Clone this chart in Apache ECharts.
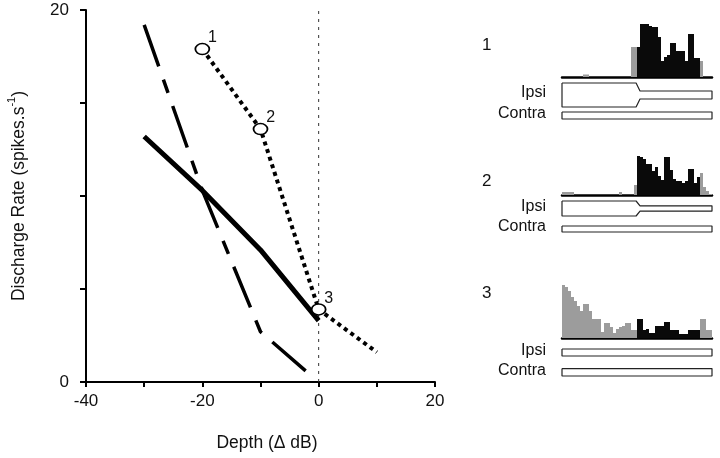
<!DOCTYPE html>
<html>
<head>
<meta charset="utf-8">
<script src="https://cdn.jsdelivr.net/npm/echarts@6/dist/echarts.min.js"></script>
<style>
html,body{margin:0;padding:0;background:#fff;}
#chart{width:720px;height:458px;}
</style>
</head>
<body>
<div id="chart"></div>
<script>
// ---------- data ----------
// main chart: depth (Δ dB) vs discharge rate (spikes/s)
const dashedX = [-30, -20, -10, -1.5];
const dashedY = [19.2, 10.3, 2.7, 0.4];
const solidX = [-30, -20, -10, 0];
const solidY = [13.2, 10.3, 7.1, 3.3];
const dottedX = [-20, -10, 0, 10];
const dottedY = [17.9, 13.6, 3.9, 1.6];
const markerLabels = ['1', '2', '3'];
const referenceDepth = 0;
const xTicks = [-40, -20, 0, 20];
const yTicks = [0, 20];

// PSTH histograms (50 bins each)
const hist1 = [0,0,0,0,0,0,0,2.5,2.5,0, 0,0,0,0,0,0,0,0,0,0, 0,0,0,30,30,30,53,53,53,51, 50,50,40,16,20,22,34,34,26,26, 26,16,43,43,19,19,16,0,0,0];
const hist2 = [3,3,3,3,0,0,0,0,0,0, 0,0,0,0,0,0,0,0,0,3, 0,0,0,0,10,39,38,36,31,31, 24,28,19,15,38,38,25,16,14,14, 12,14,26,26,12,18,22,8,4,1];
const hist3 = [53,51,47,41,37,32,27,34,34,27, 19,19,19,6,15,15,11,5,9,11, 12,15,15,8,8,19,19,8,9,5, 5,12,12,12,16,16,8,8,8,4, 4,4,8,8,8,8,19,19,8,8];
const drivenBins = [25, 45]; // bins during the stimulus-driven window

// stimulus envelopes: [bin, half-amplitude]
const ipsi1 = [[0,12],[24.7,12],[26,4],[50,4]];
const contra1 = [[0,3.5],[50,3.5]];
const ipsi2 = [[0,7.5],[24.7,7.5],[26,2.7],[50,2.7]];
const contra2 = [[0,3],[50,3]];
const ipsi3 = [[0,3.5],[50,3.5]];
const contra3 = [[0,3.7],[50,3.7]];
const panelNames = ['1', '2', '3'];
const rowNames = ['Ipsi', 'Contra'];

// ---------- layout ----------
const FONT = '"Liberation Sans", Arial, Helvetica, sans-serif';
const histLayout = [{top: 21, height: 56}, {top: 155, height: 40}, {top: 282, height: 56}];
const stimCenters = [[95, 115.5], [208.5, 229], [352.5, 372.3]];
const panelLabelY = [47, 183, 295];
const histLeft = 562, histWidth = 150;

const chart = echarts.init(document.getElementById('chart'), null, {renderer: 'canvas'});

const grids = [{left: 86, top: 10, width: 349, height: 372}];
const xAxes = [{
  type: 'value', gridIndex: 0, min: -40, max: 20, interval: 10,
  name: 'Depth (Δ dB)', nameLocation: 'middle', nameGap: 52,
  nameTextStyle: {fontFamily: FONT, fontSize: 17.5, color: '#111', padding: [0, 0, 0, 13]},
  axisLine: {show: true, onZero: false, lineStyle: {color: '#000', width: 2}},
  axisTick: {show: true, length: 5, lineStyle: {color: '#000', width: 2}},
  axisLabel: {fontFamily: FONT, fontSize: 17, color: '#111', margin: 11,
    formatter: v => xTicks.indexOf(v) >= 0 ? String(v) : ''},
  splitLine: {show: false}
}];
const yAxes = [{
  type: 'value', gridIndex: 0, min: 0, max: 20, interval: 5,
  name: '{a|Discharge Rate (spikes.s}{b|-1}{a|)}', nameLocation: 'middle', nameGap: 58,
  nameTextStyle: {fontFamily: FONT, color: '#111',
    rich: {a: {fontFamily: FONT, fontSize: 17.5, color: '#111', lineHeight: 22, verticalAlign: 'bottom'},
           b: {fontFamily: FONT, fontSize: 11, color: '#111', lineHeight: 12, verticalAlign: 'top'}}},
  axisLine: {show: true, onZero: false, lineStyle: {color: '#000', width: 2}},
  axisTick: {show: true, length: 6, lineStyle: {color: '#000', width: 2}},
  axisLabel: {fontFamily: FONT, fontSize: 17, color: '#111', margin: 17,
    formatter: v => yTicks.indexOf(v) >= 0 ? String(v) : ''},
  splitLine: {show: false}
}];

const series = [];
const zip = (xs, ys) => xs.map((x, i) => [x, ys[i]]);

// reference line at 0 dB
series.push({type: 'line', xAxisIndex: 0, yAxisIndex: 0, data: [[referenceDepth, 0], [referenceDepth, 20]],
  showSymbol: false, lineStyle: {color: '#333', width: 1, type: [3, 5]}, z: 1, silent: true});
// long-dash curve
series.push({type: 'line', xAxisIndex: 0, yAxisIndex: 0, data: zip(dashedX, dashedY),
  showSymbol: false, lineStyle: {color: '#000', width: 3.5, type: [44, 14, 14, 14], cap: 'butt'}, z: 2});
// solid curve
series.push({type: 'line', xAxisIndex: 0, yAxisIndex: 0, data: zip(solidX, solidY),
  showSymbol: false, lineStyle: {color: '#000', width: 5, join: 'round', cap: 'butt'}, z: 3});
// dotted curve with numbered markers
series.push({type: 'line', xAxisIndex: 0, yAxisIndex: 0,
  data: dottedX.map((x, i) => {
    const item = {value: [x, dottedY[i]]};
    if (i < markerLabels.length) {
      item.symbol = 'circle';
      item.label = {show: true, formatter: markerLabels[i]};
    } else {
      item.symbol = 'none';
    }
    return item;
  }),
  symbol: 'circle', symbolSize: [14, 11], showAllSymbol: true,
  itemStyle: {color: '#fff', borderColor: '#000', borderWidth: 1.6},
  label: {show: false, position: [18, -5], align: 'center', verticalAlign: 'middle',
    fontFamily: FONT, fontSize: 16, color: '#111'},
  lineStyle: {color: '#000', width: 4, type: [4, 4], cap: 'butt'}, z: 4});

// histograms
const hists = [hist1, hist2, hist3];
hists.forEach((h, p) => {
  const gi = grids.length;
  grids.push({left: histLeft, width: histWidth, top: histLayout[p].top, height: histLayout[p].height});
  xAxes.push({type: 'category', gridIndex: gi, data: h.map((_, i) => i), boundaryGap: true,
    axisLine: {show: true, lineStyle: {color: '#000', width: 2.5}}, axisTick: {show: false}, axisLabel: {show: false}});
  yAxes.push({type: 'value', gridIndex: gi, min: 0, max: histLayout[p].height, show: false});
  series.push({type: 'bar', xAxisIndex: gi, yAxisIndex: gi, data: h, barWidth: '100%', barCategoryGap: 0,
    itemStyle: {color: params => (params.dataIndex >= drivenBins[0] && params.dataIndex <= drivenBins[1]) ? '#0a0a0a' : '#9c9c9c'},
    silent: true, z: 2});
});

// stimulus envelopes
const envs = [[ipsi1, contra1], [ipsi2, contra2], [ipsi3, contra3]];
envs.forEach((pair, p) => {
  pair.forEach((env, r) => {
    const gi = grids.length;
    grids.push({left: histLeft, width: histWidth, top: stimCenters[p][r] - 14, height: 28});
    xAxes.push({type: 'value', gridIndex: gi, min: 0, max: 50, show: false});
    yAxes.push({type: 'value', gridIndex: gi, min: -14, max: 14, show: false});
    const outline = env.map(d => [d[0], d[1]]).concat(env.slice().reverse().map(d => [d[0], -d[1]]));
    outline.push(outline[0]);
    series.push({type: 'line', xAxisIndex: gi, yAxisIndex: gi, data: outline, showSymbol: false,
      lineStyle: {color: '#222', width: 1.2}, silent: true, z: 2});
  });
});

// text labels for panels
const graphics = [];
panelNames.forEach((n, p) => {
  graphics.push({type: 'text', left: 482, top: panelLabelY[p] - 10,
    style: {text: n, font: '17px ' + FONT, fill: '#111'}});
  rowNames.forEach((rn, r) => {
    graphics.push({type: 'text', right: 720 - 546, top: stimCenters[p][r] - 10,
      style: {text: rn, font: '16px ' + FONT, fill: '#111', textAlign: 'right'}});
  });
});

chart.setOption({
  animation: false,
  backgroundColor: '#fff',
  grid: grids,
  xAxis: xAxes,
  yAxis: yAxes,
  series: series,
  graphic: graphics
});
</script>
</body>
</html>
